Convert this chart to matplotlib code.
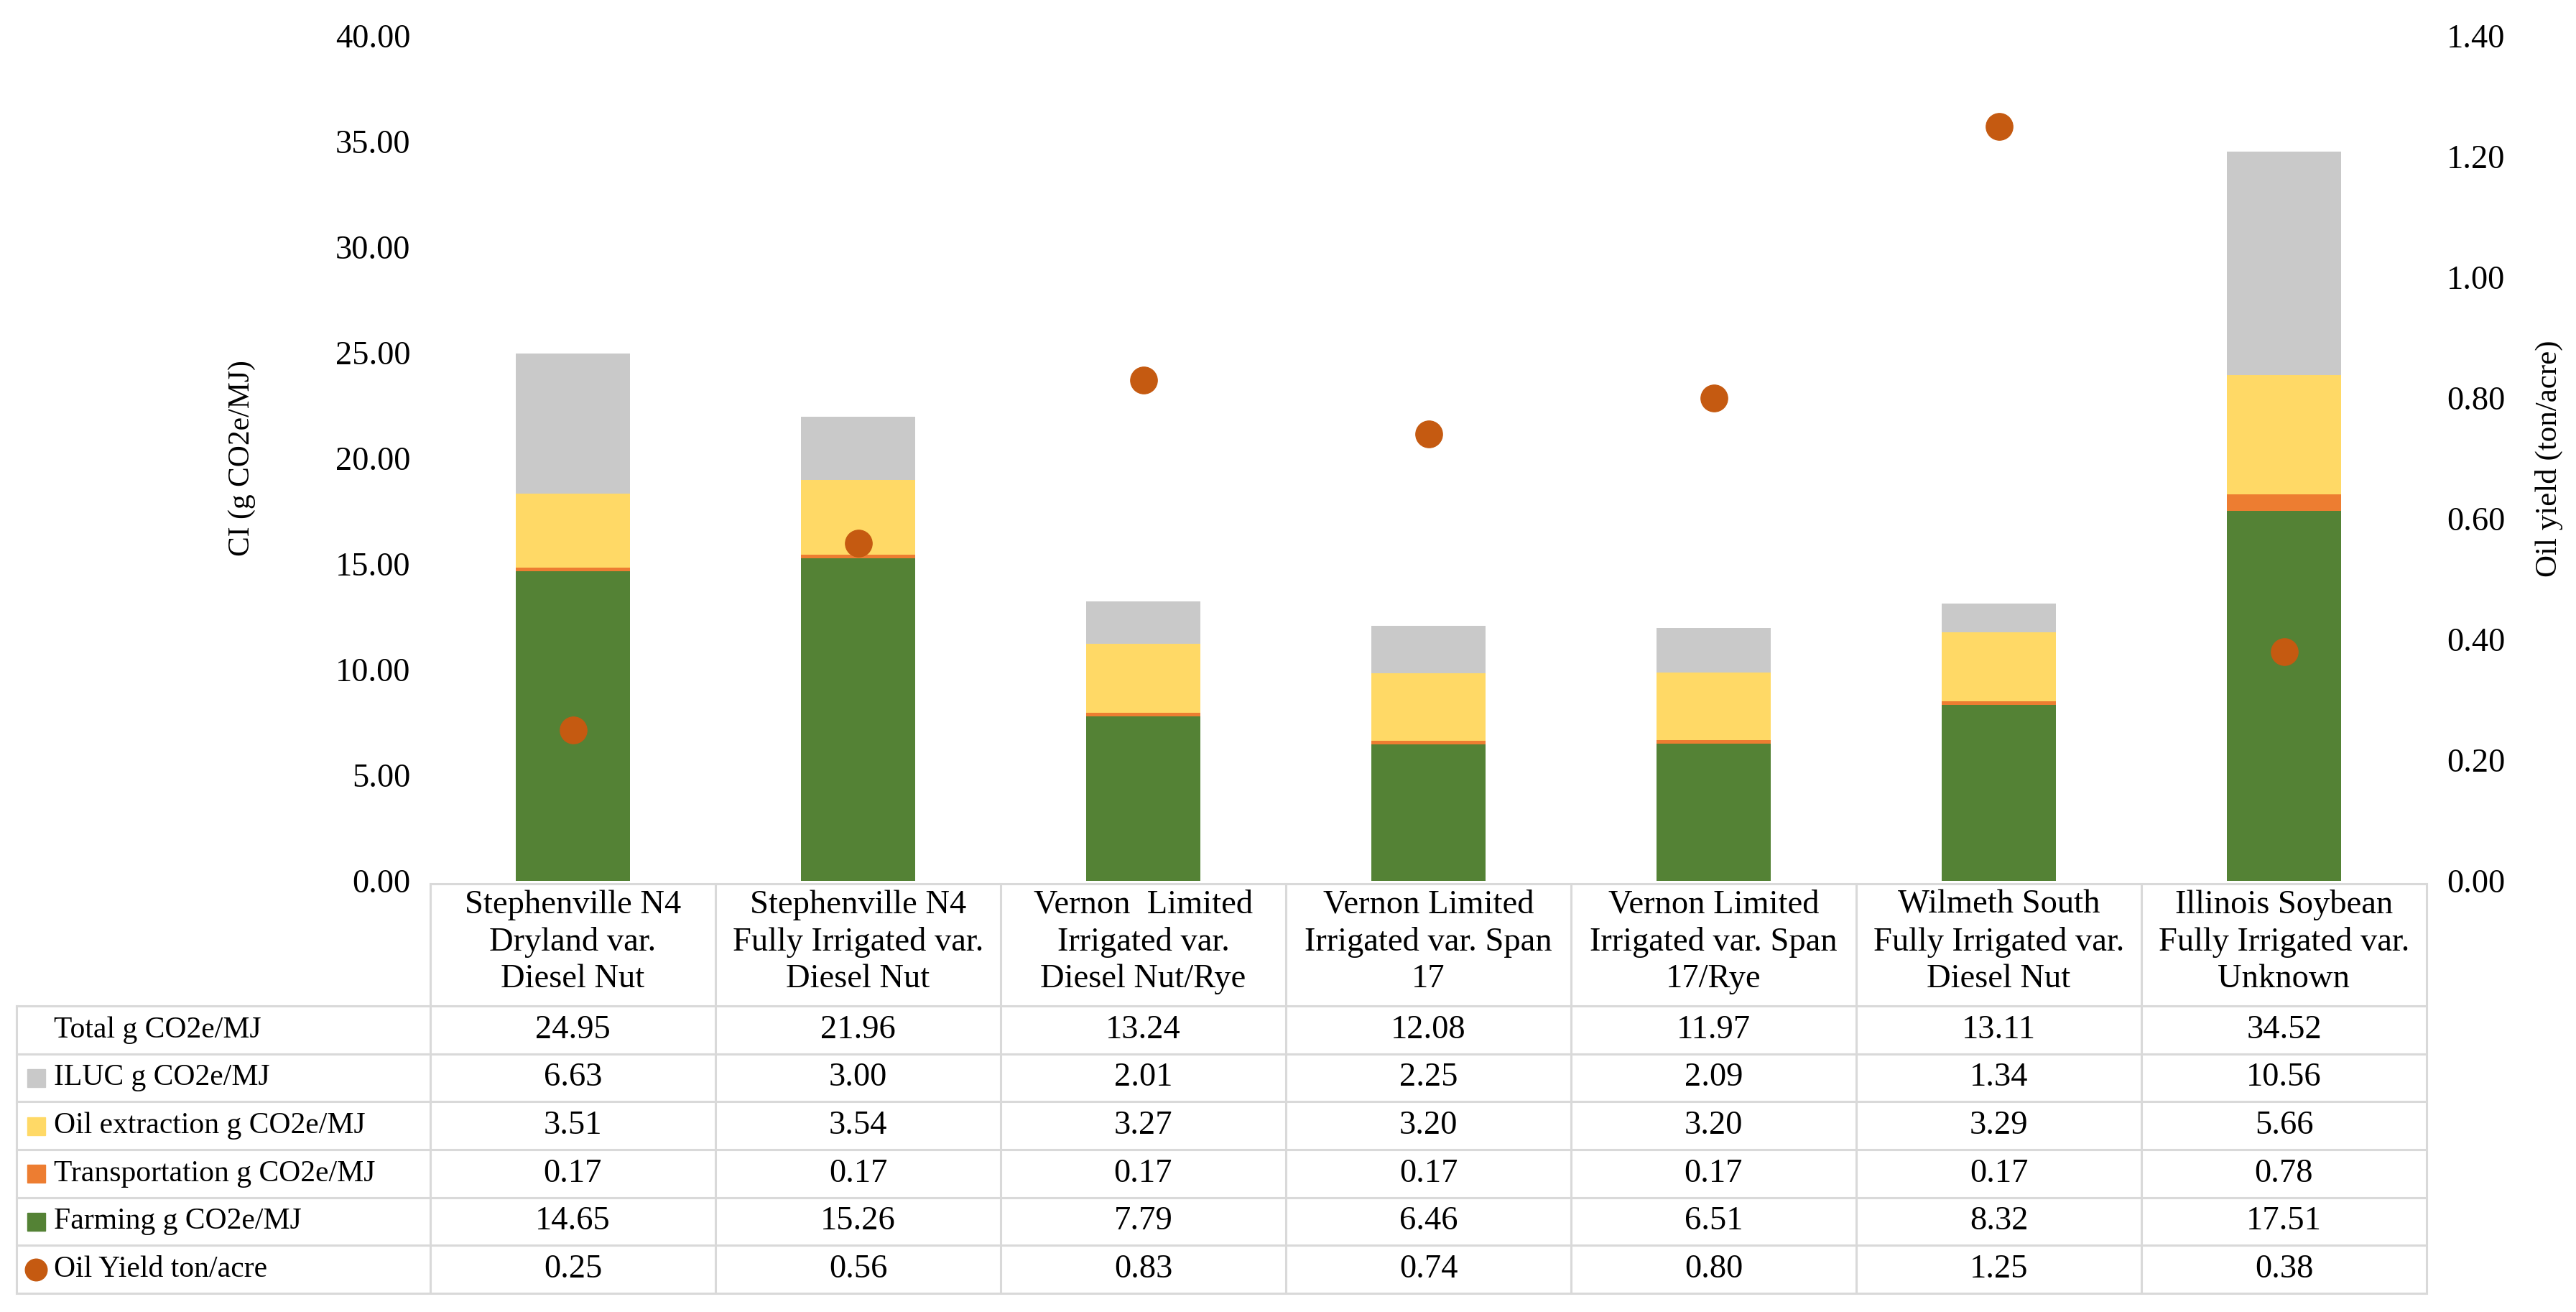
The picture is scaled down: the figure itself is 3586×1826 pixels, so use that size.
import matplotlib.pyplot as plt
import numpy as np

plt.rcParams['font.family'] = ['Liberation Serif', 'DejaVu Serif']

# data
sites = ['Stephenville N4\nDryland var.\nDiesel Nut',
         'Stephenville N4\nFully Irrigated var.\nDiesel Nut',
         'Vernon  Limited\nIrrigated var.\nDiesel Nut/Rye',
         'Vernon Limited\nIrrigated var. Span\n17',
         'Vernon Limited\nIrrigated var. Span\n17/Rye',
         'Wilmeth South\nFully Irrigated var.\nDiesel Nut',
         'Illinois Soybean\nFully Irrigated var.\nUnknown']
total = [24.95, 21.96, 13.24, 12.08, 11.97, 13.11, 34.52]
iluc = [6.63, 3.00, 2.01, 2.25, 2.09, 1.34, 10.56]
oil_extraction = [3.51, 3.54, 3.27, 3.20, 3.20, 3.29, 5.66]
transport = [0.17, 0.17, 0.17, 0.17, 0.17, 0.17, 0.78]
farming = [14.65, 15.26, 7.79, 6.46, 6.51, 8.32, 17.51]
oil_yield = [0.25, 0.56, 0.83, 0.74, 0.80, 1.25, 0.38]

c_farm = '#548235'
c_trans = '#ED7D31'
c_oil = '#FFD966'
c_iluc = '#C9C9C9'
c_yield = '#C55A11'

W, H = 3586, 1826
fs_lab = 30     # axis titles, row labels
fs_num = 33.5   # tick labels, table numbers, headers

# layout in pixels
left, right, bottom, top = 599, 3378, 1226, 50

fig = plt.figure(figsize=(W / 100, H / 100), dpi=100)
ax = fig.add_axes([left / W, 1 - bottom / H, (right - left) / W, (bottom - top) / H])

x = np.arange(len(sites))
bw = 0.4
b1 = np.array(farming)
b2 = b1 + np.array(transport)
b3 = b2 + np.array(oil_extraction)
ax.bar(x, farming, bw, color=c_farm)
ax.bar(x, transport, bw, bottom=b1, color=c_trans)
ax.bar(x, oil_extraction, bw, bottom=b2, color=c_oil)
ax.bar(x, iluc, bw, bottom=b3, color=c_iluc)

ax.set_xlim(-0.5, len(sites) - 0.5)
ax.set_ylim(0, 40)
yt = np.arange(0, 40.1, 5)
ax.set_yticks(yt)
ax.set_yticklabels(['{:.2f}'.format(v) for v in yt], fontsize=fs_num)
ax.set_xticks([])
for s in ax.spines.values():
    s.set_visible(False)
ax.tick_params(axis='y', length=0, pad=20)
ax.set_ylabel('CI (g CO2e/MJ)', fontsize=fs_lab, labelpad=80)

ax2 = ax.twinx()
ax2.scatter(x, oil_yield, s=720, color=c_yield, zorder=5)
ax2.set_ylim(0, 1.4)
yt2 = np.arange(0, 1.41, 0.2)
ax2.set_yticks(yt2)
ax2.set_yticklabels(['{:.2f}'.format(v) for v in yt2], fontsize=fs_num)
for s in ax2.spines.values():
    s.set_visible(False)
ax2.tick_params(axis='y', length=0, pad=20)
ax2.set_ylabel('Oil yield (ton/acre)', fontsize=fs_lab + 1, labelpad=30)

# data table under the chart
tab = fig.add_axes([0, 0, 1, 1])
tab.set_xlim(0, W)
tab.set_ylim(H, 0)
tab.axis('off')
tab.patch.set_alpha(0)

lc = '#D9D9D9'
lw = 2.2
t_left = 23
h_top, h_bot = 1230, 1400
row_h = 66.7
n = len(sites)
col_w = (right - left) / n
col_edges = [left + i * col_w for i in range(n + 1)]

rows = [('Total g CO2e/MJ', total, None),
        ('ILUC g CO2e/MJ', iluc, ('s', c_iluc)),
        ('Oil extraction g CO2e/MJ', oil_extraction, ('s', c_oil)),
        ('Transportation g CO2e/MJ', transport, ('s', c_trans)),
        ('Farming g CO2e/MJ', farming, ('s', c_farm)),
        ('Oil Yield ton/acre', oil_yield, ('o', c_yield))]
t_bot = h_bot + row_h * len(rows)

tab.plot([left, right], [h_top, h_top], color=lc, lw=lw)
for ce in col_edges:
    tab.plot([ce, ce], [h_top, t_bot], color=lc, lw=lw)
for i in range(len(rows) + 1):
    yy = h_bot + i * row_h
    tab.plot([t_left, right], [yy, yy], color=lc, lw=lw)
tab.plot([t_left, t_left], [h_bot, t_bot], color=lc, lw=lw)

for i, name in enumerate(sites):
    cx = (col_edges[i] + col_edges[i + 1]) / 2
    tab.text(cx, (h_top + h_bot) / 2 - 4, name, ha='center', va='center',
             fontsize=fs_num, linespacing=1.27)

for r, (label, vals, key) in enumerate(rows):
    cy = h_bot + (r + 0.5) * row_h
    tab.text(75, cy, label, ha='left', va='center', fontsize=fs_lab)
    if key is not None:
        tab.plot(50, cy, marker=key[0], color=key[1], markersize=18 if key[0] == 's' else 22,
                 linestyle='none')
    for i, v in enumerate(vals):
        cx = (col_edges[i] + col_edges[i + 1]) / 2
        tab.text(cx, cy, '{:.2f}'.format(v), ha='center', va='center', fontsize=fs_num)

fig.savefig('out.png', dpi=100)
